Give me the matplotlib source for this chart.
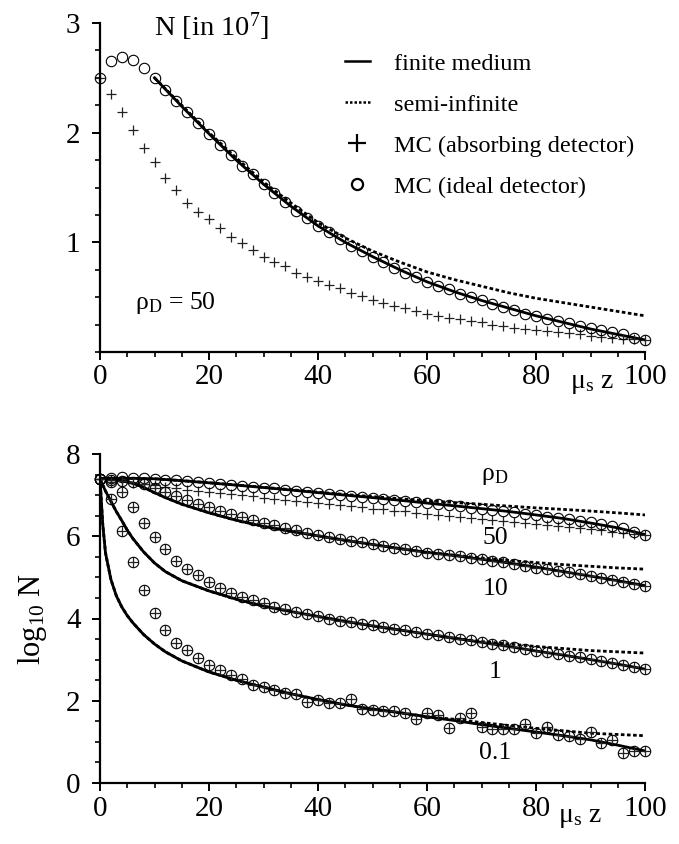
import numpy as np
import matplotlib
matplotlib.use('Agg')
import matplotlib.pyplot as plt
from matplotlib.lines import Line2D
from matplotlib.ticker import MultipleLocator

plt.rcParams['font.family'] = ['Liberation Serif', 'DejaVu Serif']
plt.rcParams['mathtext.fontset'] = 'custom'
plt.rcParams['mathtext.rm'] = 'Liberation Serif'
plt.rcParams['mathtext.it'] = 'Liberation Serif:italic'

# ---- data: top panel (rho_D = 50, N in 1e7) ----
z_mc = np.arange(0, 101, 2)
mc_ideal = [2.50, 2.65, 2.69, 2.66, 2.59, 2.50, 2.39, 2.29, 2.19, 2.09,
            1.99, 1.89, 1.80, 1.70, 1.62, 1.53, 1.45, 1.37, 1.29, 1.22,
            1.15, 1.09, 1.03, 0.97, 0.92, 0.87, 0.82, 0.77, 0.72, 0.68,
            0.64, 0.60, 0.57, 0.53, 0.50, 0.47, 0.44, 0.41, 0.38, 0.35,
            0.33, 0.30, 0.28, 0.26, 0.24, 0.22, 0.20, 0.18, 0.16, 0.13,
            0.11]
mc_absorb = [2.50, 2.35, 2.19, 2.02, 1.86, 1.73, 1.59, 1.48, 1.36, 1.28,
             1.21, 1.13, 1.05, 0.99, 0.93, 0.87, 0.82, 0.78, 0.72, 0.68,
             0.65, 0.61, 0.58, 0.54, 0.51, 0.47, 0.45, 0.42, 0.40, 0.37,
             0.35, 0.33, 0.31, 0.30, 0.28, 0.27, 0.25, 0.24, 0.22, 0.21,
             0.20, 0.19, 0.18, 0.17, 0.16, 0.15, 0.14, 0.13, 0.12, 0.115,
             0.11]
z_line = [10, 15, 20, 25, 30, 35, 40, 45, 50, 55, 60, 65, 70, 75, 80, 85, 90, 95, 100]
finite_top = [2.50, 2.24, 1.99, 1.75, 1.53, 1.33, 1.15, 1.00, 0.87, 0.75,
              0.64, 0.55, 0.47, 0.40, 0.33, 0.27, 0.21, 0.16, 0.11]
semi_top = [2.50, 2.25, 2.00, 1.77, 1.55, 1.36, 1.18, 1.04, 0.92, 0.82,
            0.73, 0.66, 0.60, 0.54, 0.49, 0.45, 0.41, 0.37, 0.33]

# ---- data: bottom panel (log10 N) ----
z_log = [0, 0.5, 1, 2, 3, 4, 5, 6, 8, 10, 12, 15, 20, 25, 30, 35, 40, 45,
         50, 55, 60, 65, 70, 75, 80, 85, 90, 95, 100]
fin_10 = [7.40, 7.40, 7.40, 7.39, 7.37, 7.35, 7.32, 7.29, 7.19, 7.06,
          6.94, 6.78, 6.57, 6.39, 6.24, 6.12, 6.01, 5.90, 5.80, 5.70,
          5.61, 5.53, 5.44, 5.35, 5.25, 5.14, 5.03, 4.92, 4.80]
semi_10 = [7.40, 7.40, 7.40, 7.39, 7.37, 7.35, 7.32, 7.29, 7.19, 7.06,
           6.94, 6.78, 6.57, 6.39, 6.24, 6.12, 6.01, 5.90, 5.80, 5.70,
           5.61, 5.54, 5.47, 5.41, 5.36, 5.31, 5.27, 5.23, 5.20]
fin_1 = [7.40, 7.25, 7.10, 6.85, 6.60, 6.38, 6.15, 5.95, 5.62, 5.35,
         5.14, 4.92, 4.67, 4.47, 4.30, 4.17, 4.05, 3.93, 3.82, 3.72,
         3.62, 3.52, 3.42, 3.32, 3.21, 3.11, 3.00, 2.89, 2.77]
semi_1 = [7.40, 7.25, 7.10, 6.85, 6.60, 6.38, 6.15, 5.95, 5.62, 5.35,
          5.14, 4.92, 4.67, 4.47, 4.30, 4.17, 4.05, 3.93, 3.82, 3.72,
          3.62, 3.52, 3.44, 3.38, 3.32, 3.27, 3.22, 3.19, 3.16]
fin_01 = [7.40, 6.30, 5.60, 4.95, 4.55, 4.28, 4.07, 3.90, 3.61, 3.38,
          3.19, 2.97, 2.70, 2.50, 2.33, 2.17, 2.03, 1.90, 1.80, 1.71,
          1.61, 1.52, 1.42, 1.33, 1.24, 1.15, 1.05, 0.92, 0.78]
semi_01 = [7.40, 6.30, 5.60, 4.95, 4.55, 4.28, 4.07, 3.90, 3.61, 3.38,
           3.19, 2.97, 2.70, 2.50, 2.33, 2.17, 2.03, 1.90, 1.80, 1.71,
           1.61, 1.55, 1.47, 1.40, 1.33, 1.27, 1.21, 1.18, 1.15]
z_50 = [0, 5] + z_line
head_50 = [7.40, 7.41]

mc_10 = [7.40, 7.36, 7.34, 7.31, 7.26, 7.18, 7.08, 6.98, 6.89, 6.79,
         6.71, 6.62, 6.54, 6.46, 6.40, 6.33, 6.27, 6.21, 6.15, 6.09,
         6.03, 5.98, 5.93, 5.89, 5.85, 5.80, 5.76, 5.72, 5.68, 5.64,
         5.60, 5.57, 5.54, 5.51, 5.48, 5.45, 5.41, 5.37, 5.32, 5.28,
         5.24, 5.20, 5.16, 5.12, 5.07, 5.03, 4.99, 4.94, 4.89, 4.84,
         4.79]
mc_1 = [7.40, 7.33, 7.07, 6.72, 6.33, 5.98, 5.68, 5.41, 5.21, 5.05,
        4.89, 4.75, 4.63, 4.53, 4.45, 4.37, 4.28, 4.22, 4.16, 4.11,
        4.06, 4.00, 3.95, 3.91, 3.87, 3.83, 3.79, 3.75, 3.71, 3.67,
        3.63, 3.59, 3.55, 3.51, 3.47, 3.43, 3.39, 3.35, 3.30, 3.26,
        3.22, 3.18, 3.14, 3.10, 3.06, 3.01, 2.97, 2.92, 2.87, 2.82,
        2.77]
mc_01 = [7.40, 6.90, 6.13, 5.37, 4.69, 4.13, 3.73, 3.41, 3.24, 3.05,
         2.88, 2.75, 2.63, 2.53, 2.39, 2.33, 2.27, 2.19, 2.16, 1.97,
         2.02, 1.95, 1.95, 2.04, 1.80, 1.78, 1.76, 1.74, 1.71, 1.56,
         1.70, 1.66, 1.33, 1.58, 1.71, 1.36, 1.31, 1.31, 1.31, 1.43,
         1.21, 1.37, 1.17, 1.15, 1.07, 1.23, 0.97, 1.05, 0.72, 0.79,
         0.79]

rho_labels = ['50', '10', '1', '0.1']
rho_label_y = [5.95, 4.71, 2.71, 0.73]

fig = plt.figure(figsize=(6.79, 8.44), dpi=100)
ax1 = fig.add_axes([100 / 679, 1 - 352 / 844, 545 / 679, 329 / 844])
ax2 = fig.add_axes([100 / 679, 1 - 783 / 844, 545 / 679, 329 / 844])

line_kw = dict(color='k', lw=2.0)
dot_kw = dict(color='k', lw=2.0, linestyle=(0, (1.3, 0.9)))
circ_kw = dict(linestyle='none', marker='o', ms=7.5, mfc='none', mec='k', mew=0.8, clip_on=False)
plus_kw = dict(linestyle='none', marker='+', ms=7.5, mec='#222222', mew=0.9, clip_on=False)

# top panel
ax1.plot(z_line, semi_top, **dot_kw)
ax1.plot(z_line, finite_top, **line_kw)
ax1.plot(z_mc, mc_absorb, **plus_kw)
ax1.plot(z_mc, mc_ideal, **circ_kw)

handles = [Line2D([], [], color='k', lw=1.8),
           Line2D([], [], color='k', lw=1.8, linestyle=(0, (1.0, 0.8))),
           Line2D([], [], linestyle='none', marker='+', ms=13, mec='k', mew=1.6),
           Line2D([], [], linestyle='none', marker='o', ms=8, mfc='none', mec='k', mew=1.6)]
labels = ['finite medium', 'semi-infinite', 'MC (absorbing detector)', 'MC (ideal detector)']
ax1.legend(handles, labels, loc='upper left', bbox_to_anchor=(0.45, 0.91),
           frameon=False, fontsize=17.5, handlelength=1.0, handletextpad=1.0,
           labelspacing=0.78, borderpad=0, borderaxespad=0)

ax1.text(10, 2.97, r'N [in 10$^{7}$]', fontsize=20.5, va='center', ha='left')
ax1.text(6.4, 0.45, r'ρ$_{\mathrm{D}}$ = 50', fontsize=18.5, va='center', ha='left')
ax1.text(86.2, -0.29, r'μ$_{\mathrm{s}}$ z', fontsize=20, va='center', ha='left', clip_on=False)

ax1.set_xlim(0, 100)
ax1.set_ylim(0, 3)
ax1.set_yticks([1, 2, 3])
ax1.yaxis.set_minor_locator(MultipleLocator(0.25))

# bottom panel
ax2.plot(z_50, head_50 + list(np.log10(np.array(semi_top) * 1e7)), **dot_kw)
ax2.plot(z_50, head_50 + list(np.log10(np.array(finite_top) * 1e7)), **line_kw)
for fin, semi in [(fin_10, semi_10), (fin_1, semi_1), (fin_01, semi_01)]:
    ax2.plot(z_log, semi, **dot_kw)
    ax2.plot(z_log, fin, **line_kw)

ax2.plot(z_mc, np.log10(np.array(mc_absorb) * 1e7), **plus_kw)
ax2.plot(z_mc, np.log10(np.array(mc_ideal) * 1e7), **circ_kw)
for mc in [mc_10, mc_1, mc_01]:
    ax2.plot(z_mc, mc, **plus_kw)
    ax2.plot(z_mc, mc, **circ_kw)

ax2.text(72.5, 7.46, r'ρ$_{\mathrm{D}}$', fontsize=18.5, va='center', ha='center')
for lab, yy in zip(rho_labels, rho_label_y):
    ax2.text(72.5, yy, lab, fontsize=18.5, va='center', ha='center')
ax2.text(84, -0.85, r'μ$_{\mathrm{s}}$ z', fontsize=20, va='center', ha='left', clip_on=False)

ax2.set_xlim(0, 100)
ax2.set_ylim(0, 8)
ax2.set_yticks([0, 2, 4, 6, 8])
ax2.yaxis.set_minor_locator(MultipleLocator(0.5))
ax2.set_ylabel(r'log$_{10}$ N', fontsize=22, labelpad=12)

for ax in (ax1, ax2):
    ax.set_xticks([0, 20, 40, 60, 80, 100])
    ax.xaxis.set_minor_locator(MultipleLocator(5))
    for s in ('top', 'right'):
        ax.spines[s].set_visible(False)
    for s in ('left', 'bottom'):
        ax.spines[s].set_linewidth(1.6)
    ax.tick_params(which='major', direction='out', length=6, width=1.4, labelsize=21, pad=3)
    ax.tick_params(which='minor', direction='out', length=3.5, width=1.2)
    ax.tick_params(axis='y', which='major', pad=8)

fig.savefig('out.png', dpi=100)
